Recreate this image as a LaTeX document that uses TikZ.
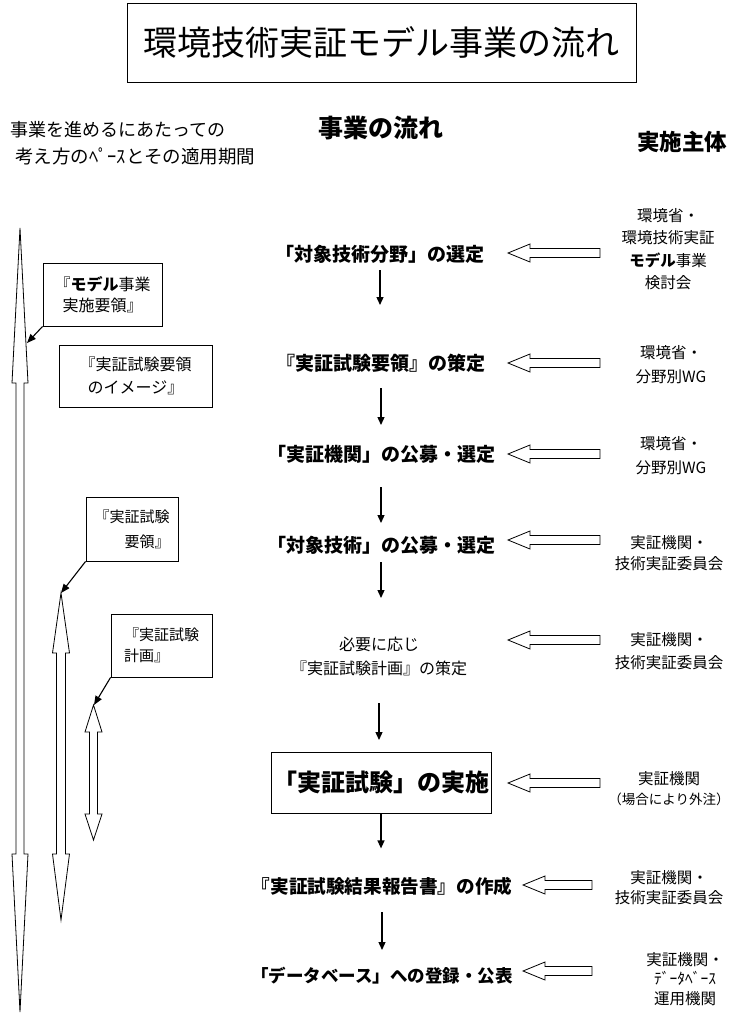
\documentclass[tikz,border=0pt]{standalone}
\usepackage{fontspec}
\setmainfont{Noto Sans CJK JP}
\usetikzlibrary{arrows.meta}
\newcommand\dblarrow[7]{% cx, shaft hw, head hw, tipTop, baseTop, baseBot, tipBot
  \draw[hollow] (#1,#4) -- (#1+#3,#5) -- (#1+#2,#5) -- (#1+#2,#6) -- (#1+#3,#6) -- (#1,#7)
    -- (#1-#3,#6) -- (#1-#2,#6) -- (#1-#2,#5) -- (#1-#3,#5) -- cycle;}
\newcommand\leftfat[3]{% tip x, tail x, y
  \draw[hollow] (#1,#3) -- (#1+22,#3-9) -- (#1+22,#3-4.5) -- (#2,#3-4.5) -- (#2,#3+4.5)
    -- (#1+22,#3+4.5) -- (#1+22,#3+9) -- cycle;}
\begin{document}
\begin{tikzpicture}[x=1pt,y=-1pt,
  hollow/.style={draw=black, line width=0.8pt, fill=white},
  frame/.style={draw=black, line width=0.8pt},
  flowtxt/.style={font=\bfseries\fontsize{19}{24}\selectfont, inner sep=0pt},
  whotxt/.style={font=\fontsize{15.5}{21.5}\selectfont, align=center, inner sep=0pt},
  lbox/.style={frame, inner sep=0pt, font=\fontsize{15.5}{22}\selectfont},
  flowarr/.style={line width=1.3pt, -{Triangle[length=8pt,width=7pt]}},
  callout/.style={line width=1.1pt, -{Triangle[length=9pt,width=7pt]}}]
\useasboundingbox (0,0) rectangle (744,1020);

% title
\node[frame, minimum width=509pt, minimum height=79pt, font=\fontsize{34}{40}\selectfont]
  (title) at (381.5,42.5) {環境技術実証モデル事業の流れ};

% headers
\node[anchor=west, inner sep=0pt, font=\fontsize{18}{22}\selectfont] (h1) at (10,130) {事業を進めるにあたっての};
\node[anchor=west, inner sep=0pt, font=\fontsize{18.5}{22}\selectfont] (h2) at (15,156) {考え方のﾍﾟｰｽとその適用期間};
\node[inner sep=0pt, font=\bfseries\fontsize{25}{28}\selectfont] (h3) at (381,128) {事業の流れ};
\node[inner sep=0pt, font=\bfseries\fontsize{22.5}{26}\selectfont] (h4) at (682,142) {実施主体};

% flow
\node[flowtxt] (f1) at (380,254) {「対象技術分野」の選定};
\node[flowtxt] (f2) at (381,363) {『実証試験要領』の策定};
\node[flowtxt] (f3) at (381,454) {「実証機関」の公募・選定};
\node[flowtxt] (f4) at (381,545) {「対象技術」の公募・選定};
\node[inner sep=0pt, align=center, font=\fontsize{16}{24}\selectfont] (f5) at (379,656) {必要に応じ\\『実証試験計画』の策定};
\node[frame, minimum width=220pt, minimum height=61pt, inner sep=0pt, font=\bfseries\fontsize{24}{28}\selectfont] (f6) at (381,782.5) {「実証試験」の実施};
\node[flowtxt, font=\bfseries\fontsize{18.6}{22}\selectfont] (f7) at (382,886) {『実証試験結果報告書』の作成};
\node[flowtxt, font=\bfseries\fontsize{17.5}{22}\selectfont] (f8) at (382,976) {「データベース」への登録・公表};

\draw[flowarr] (f1.center) ++(0,16) -- ++(0,35);
\draw[flowarr] (f2.center) ++(0,25) -- ++(0,37);
\draw[flowarr] (f3.center) ++(0,33) -- ++(0,36);
\draw[flowarr] (f4.center) ++(0,17) -- ++(0,36);
\draw[flowarr] (f5.center) ++(0,47) -- ++(0,37);
\draw[flowarr] (f6.south) -- ++(0,35);
\draw[flowarr] (f7.center) ++(0,26) -- ++(0,38);

% responsible bodies
\node[whotxt, font=\fontsize{15.5}{22.3}\selectfont] (w1) at (668,249) {環境省・\\環境技術実証\\{\bfseries モデル}事業\\検討会};
\node[whotxt, font=\fontsize{15.5}{24}\selectfont] (w2) at (671,365) {環境省・\\分野別WG};
\node[whotxt, font=\fontsize{15.5}{24}\selectfont] (w3) at (671,456) {環境省・\\分野別WG};
\node[whotxt] (w4) at (669,553) {実証機関・\\技術実証委員会};
\node[whotxt, font=\fontsize{15.5}{23}\selectfont] (w5) at (669,651) {実証機関・\\技術実証委員会};
\node[whotxt, font=\fontsize{15.5}{20}\selectfont] (w6) at (669,789) {実証機関\\{\fontsize{13.5}{20}\selectfont （場合により外注）}};
\node[whotxt, font=\fontsize{15.5}{20}\selectfont] (w7) at (669,888) {実証機関・\\技術実証委員会};
\node[whotxt, font=\fontsize{15.5}{19.5}\selectfont] (w8) at (685,979) {実証機関・\\ﾃﾞｰﾀﾍﾞｰｽ\\運用機関};

\leftfat{508}{600}{253}
\leftfat{508}{600}{363}
\leftfat{508}{600}{454}
\leftfat{508}{600}{540}
\leftfat{508}{600}{640}
\leftfat{508}{600}{783}
\leftfat{523}{592}{885}
\leftfat{523}{592}{971}

% left period arrows
\dblarrow{20}{4}{8}{228}{383}{854}{1012}
\dblarrow{61}{4.5}{8.5}{593}{653}{854}{920}
\dblarrow{93.5}{4}{8.5}{705}{732}{814}{840}

% left boxes
\node[lbox, minimum width=119pt, minimum height=63pt, align=center, font=\fontsize{16}{21}\selectfont] (bA) at (102.5,294.5) {『{\bfseries モデル}事業\\実施要領』};
\node[lbox, minimum width=153pt, minimum height=62pt, align=center, font=\fontsize{16}{23}\selectfont] (bB) at (135.5,376) {『実証試験要領\\のイメージ』};
\node[lbox, minimum width=92pt, minimum height=64pt, align=right, font=\fontsize{15}{25}\selectfont] (bC) at (132,529) {『実証試験\\要領』};
\node[lbox, minimum width=101pt, minimum height=63pt, align=left, font=\fontsize{15}{21}\selectfont] (bD) at (161.5,645.5) {『実証試験\\計画』};

\coordinate (tA) at (27,343);
\coordinate (tC) at (61,593);
\coordinate (tD) at (94,705);
\draw[callout] (bA.south west) -- (tA);
\draw[callout] (bC.south west) -- (tC);
\draw[callout] (bD.south west) -- (tD);
\end{tikzpicture}
\end{document}
